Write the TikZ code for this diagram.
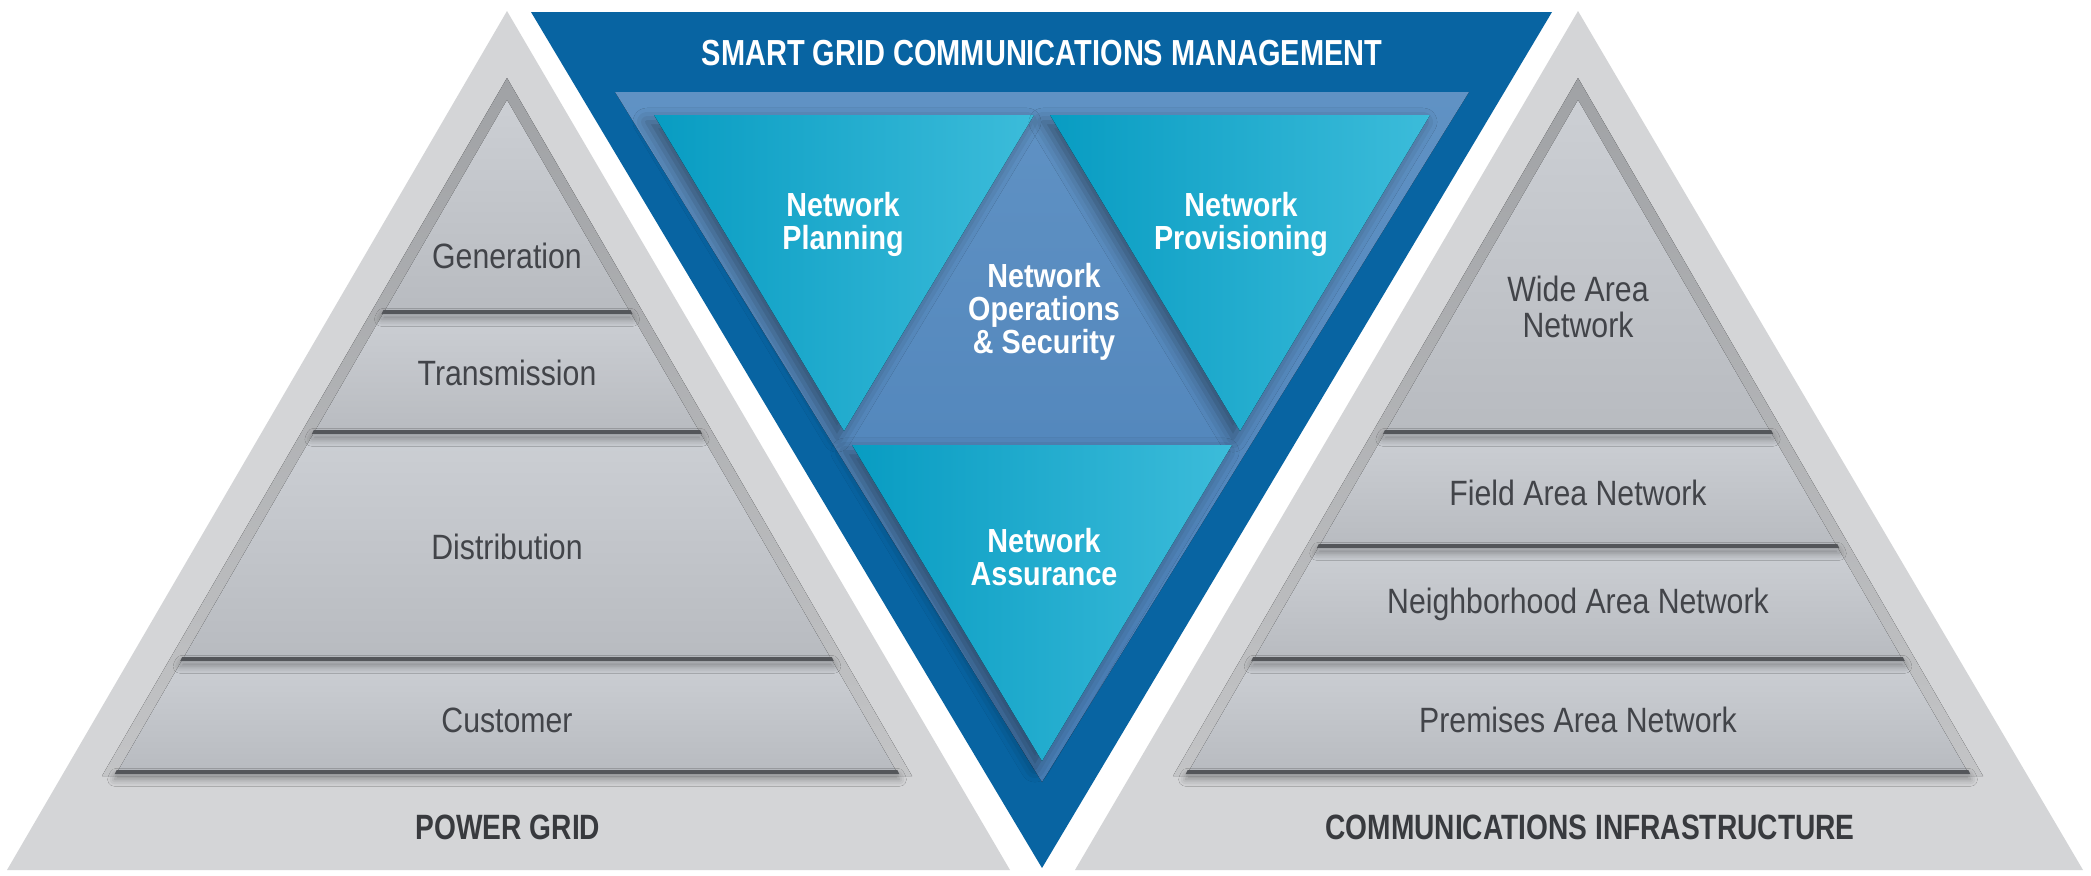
\documentclass[tikz,border=0pt]{standalone}
\usepackage{fontspec}
\newfontfamily\condfont{Liberation Sans}[FakeStretch=0.86]
\newfontfamily\headfont{Liberation Sans}[FakeStretch=0.80]
\usetikzlibrary{shadows.blur}
\definecolor{gridblue}{RGB}{8,100,162}
\definecolor{midblue}{RGB}{72,126,182}
\definecolor{midbluelight}{RGB}{96,146,196}
\definecolor{cyandark}{RGB}{8,156,194}
\definecolor{cyanlight}{RGB}{60,188,218}
\definecolor{outergray}{RGB}{212,213,215}
\definecolor{layertop}{RGB}{204,207,212}
\definecolor{layerbot}{RGB}{184,187,192}
\definecolor{rimgray}{RGB}{160,162,165}
\definecolor{edgegray}{RGB}{84,86,90}
\definecolor{labelgray}{RGB}{66,68,73}

\begin{document}
\begin{tikzpicture}[x=0.01cm, y=-0.01cm]
	\tikzstyle{outer} = [fill=outergray];
	\tikzstyle{rim} = [top color=rimgray, bottom color=outergray!92!black];
	\tikzstyle{layer} = [top color=layertop, bottom color=layerbot];
	\tikzstyle{layeredge} = [fill=edgegray, blur shadow={shadow xshift=0pt, shadow yshift=-1.5pt, shadow blur radius=2pt, shadow opacity=35}];
	\tikzstyle{tool} = [left color=cyandark, right color=cyanlight, blur shadow={shadow xshift=-2pt, shadow yshift=-2pt, shadow blur radius=4pt, shadow opacity=40}];
	\tikzstyle{layerlabel} = [font={\condfont\fontsize{10}{10}\selectfont}, text=labelgray, align=center];
	\tikzstyle{basetitle} = [font={\headfont\bfseries\fontsize{10}{12}\selectfont}, text=labelgray!85!black];
	\tikzstyle{toptitle} = [font={\headfont\bfseries\fontsize{10.3}{12}\selectfont}, text=white];
	\tikzstyle{toollabel} = [font={\condfont\bfseries\fontsize{9.5}{9.4}\selectfont}, text=white, align=center];

	\fill[white] (0,0) rectangle (2091,875);
	\useasboundingbox (0,0) rectangle (2091,875);

	% power grid and communications pyramids
	\fill[outer] (507,11) -- (1010,870) -- (7,870) -- cycle;
	\fill[outer] (1578,11) -- (2083,870) -- (1075,870) -- cycle;
	\fill[rim] (507,78) -- (912,776) -- (102,776) -- cycle;
	\fill[rim] (1578,78) -- (1983,776) -- (1173,776) -- cycle;

	\foreach \cx/\ya/\yb in {507/100/313, 507/313/433, 507/433/660, 507/660/773,
		1578/100/433, 1578/433/547, 1578/547/660, 1578/660/773} {
		\pgfmathsetmacro{\wa}{0.58*(\ya-100)}
		\pgfmathsetmacro{\wb}{0.58*(\yb-100)}
		\fill[layer] (\cx-\wa,\ya) -- (\cx+\wa,\ya) -- (\cx+\wb,\yb) -- (\cx-\wb,\yb) -- cycle;
	}
	\foreach \cx/\yb in {507/313, 507/433, 507/660, 507/773, 1578/433, 1578/547, 1578/660, 1578/773} {
		\pgfmathsetmacro{\wb}{0.58*(\yb-100)}
		\fill[layeredge] (\cx-\wb,\yb-3) -- (\cx+\wb,\yb-3) -- (\cx+\wb+2,\yb+1) -- (\cx-\wb-2,\yb+1) -- cycle;
	}

	% management triangle
	\fill[gridblue] (531,12) -- (1552,12) -- (1042,868) -- cycle;
	\fill[top color=midbluelight, bottom color=midblue] (615,92) -- (1469,92) -- (1042,782) -- cycle;
	\fill[tool] (654,115) -- (1034,115) -- (844,431) -- cycle;
	\fill[tool] (1050,115) -- (1430,115) -- (1240,431) -- cycle;
	\fill[tool] (852,445) -- (1232,445) -- (1042,761) -- cycle;

	\node[toptitle] (sgcm) at (1042,53) {SMART GRID COMMUNICATIONS MANAGEMENT};
	\node[toollabel] (plan) at (843,224) {Network\\Planning};
	\node[toollabel] (prov) at (1241,224) {Network\\Provisioning};
	\node[toollabel] (ops) at (1044,312) {Network\\Operations\\\& Security};
	\node[toollabel] (assur) at (1044,557) {Network\\Assurance};

	\node[layerlabel] (gen) at (507,256) {Generation};
	\node[layerlabel] (trans) at (507,373) {Transmission};
	\node[layerlabel] (dist) at (507,547) {Distribution};
	\node[layerlabel] (cust) at (507,720) {Customer};
	\node[basetitle] (pg) at (508,827) {POWER GRID};

	\node[layerlabel] (wan) at (1578,307) {Wide Area\\Network};
	\node[layerlabel] (fan) at (1578,493) {Field Area Network};
	\node[layerlabel] (nan) at (1578,604) {Neighborhood Area Network};
	\node[layerlabel] (pan) at (1578,720) {Premises Area Network};
	\node[basetitle] (ci) at (1590,827) {COMMUNICATIONS INFRASTRUCTURE};
\end{tikzpicture}
\end{document}
